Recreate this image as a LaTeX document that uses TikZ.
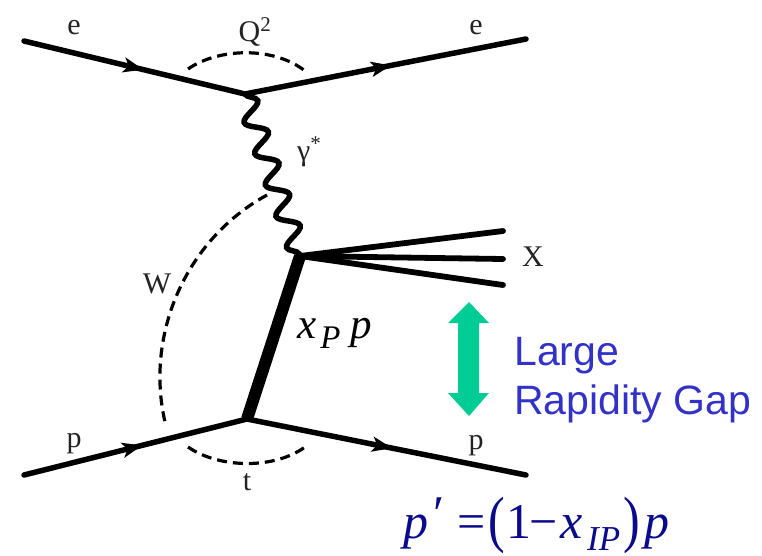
\documentclass[tikz,border=0pt]{standalone}
\usepackage{fontspec}
\setmainfont{Liberation Serif}
\newfontfamily\arialfont{Liberation Sans}
\usetikzlibrary{decorations.pathmorphing,decorations.markings,arrows.meta}
\definecolor{lblcol}{RGB}{35,35,35}
\definecolor{gapgreen}{RGB}{0,204,150}
\definecolor{gapblue}{RGB}{50,50,200}
\definecolor{formnavy}{RGB}{10,10,140}
\tikzset{
  fermion/.style={line width=5.5pt, line cap=round, postaction={decorate},
    decoration={markings, mark=at position #1 with {\arrow{Stealth[length=20pt,width=15pt,inset=5pt]}}}},
  fermion/.default=0.53,
  photon/.style={line width=5.5pt, decorate, decoration={snake, segment length=33pt, amplitude=10pt}},
  pomeron/.style={line width=12pt},
  jet/.style={line width=5.8pt, line cap=round},
  cutarc/.style={dash pattern=on 10pt off 6pt, line width=3.2pt},
  lbl/.style={font=\fontsize{30}{30}\selectfont, text=lblcol, inner sep=0pt},
  gaptext/.style={anchor=base west, inner sep=0pt, font=\arialfont\fontsize{41}{41}\selectfont, text=gapblue},
  formpart/.style={anchor=base west, inner sep=0pt, text=formnavy, font=\fontsize{50}{50}\selectfont}
}
\begin{document}
\begin{tikzpicture}[x=1pt,y=-1pt]
\useasboundingbox (0,0) rectangle (762,555);
% vertices and ends
\coordinate (eA) at (24,41);
\coordinate (v1) at (245,94);
\coordinate (eB) at (526,39);
\coordinate (v2) at (300,256);
\coordinate (v3) at (247,419);
\coordinate (pA) at (24,475);
\coordinate (pB) at (526,475);
\coordinate (x1) at (503,231);
\coordinate (x2) at (503,259);
\coordinate (x3) at (503,285);
% lines
\draw[fermion=0.54] (eA) -- (v1);
\draw[fermion=0.52] (v1) -- (eB);
\draw[photon] (v1) -- (v2);
\draw[pomeron] (v2) -- (v3);
\draw[jet] (v2) -- (x1);
\draw[jet] (v2) -- (x2);
\draw[jet] (v2) -- (x3);
\draw[fermion=0.53] (pA) -- (v3);
\draw[fermion=0.52] (v3) -- (pB);
% cut arcs
\coordinate (q1) at (188,69); \coordinate (q2) at (305,71);
\draw[cutarc] (q1) .. controls (220,47) and (275,47) .. (q2);
\coordinate (t1) at (188,447); \coordinate (t2) at (305,447);
\draw[cutarc] (t1) .. controls (220,469) and (275,469) .. (t2);
\coordinate (w1) at (267,195); \coordinate (w2) at (165,422);
\draw[cutarc] (w1) .. controls (185,240) and (145,335) .. (w2);
% labels
\node[lbl] (le1) at (74,28) {e};
\node[lbl] (le2) at (476,28) {e};
\node[lbl, anchor=base] (lq) at (255,41) {Q\textsuperscript{2}};
\node[lbl, anchor=base west] (lg) at (297,160) {γ\textsuperscript{*}};
\node[lbl, anchor=base] (lw) at (157,293) {W};
\node[lbl, anchor=base west] (lx) at (522,266) {X};
\node[lbl, anchor=base] (lp1) at (74,447) {p};
\node[lbl, anchor=base] (lp2) at (476,449) {p};
\node[lbl, anchor=base] (lt) at (247,490) {t};
\node[anchor=base west, inner sep=0pt, font=\fontsize{43}{43}\selectfont] (lxp) at (297,338)
  {\textit{x}\kern4pt\raisebox{-10pt}{\fontsize{33}{33}\selectfont\textit{P}}\kern10pt\textit{p}};
% rapidity gap arrow
\fill[gapgreen] (469,302) -- (489,323) -- (479,323) -- (479,393) -- (489,393) -- (469,416)
  -- (448,393) -- (458,393) -- (458,323) -- (448,323) -- cycle;
\node[gaptext] (large) at (514,365) {Large};
\node[gaptext] (gap) at (514,414) {Rapidity Gap};
% formula  p' = (1 - x_IP) p
\node[formpart] (f1) at (403,538) {\textit{p}};
\node[formpart] (f2) at (430,530) {\textit{′}};
\node[formpart] (f3) at (457,538) {=};
\node[formpart] (f4) at (488,540) {\scalebox{1}[1.25]{(}};
\node[formpart] (f5) at (506,538) {1};
\node[formpart] (f6) at (529,538) {−};
\node[formpart] (f7) at (560,538) {\textit{x}};
\node[formpart, font=\fontsize{35}{35}\selectfont] (f8) at (587,550) {\textit{IP}};
\node[formpart] (f9) at (623,540) {\scalebox{1}[1.25]{)}};
\node[formpart] (f10) at (644,538) {\textit{p}};
\end{tikzpicture}
\end{document}
